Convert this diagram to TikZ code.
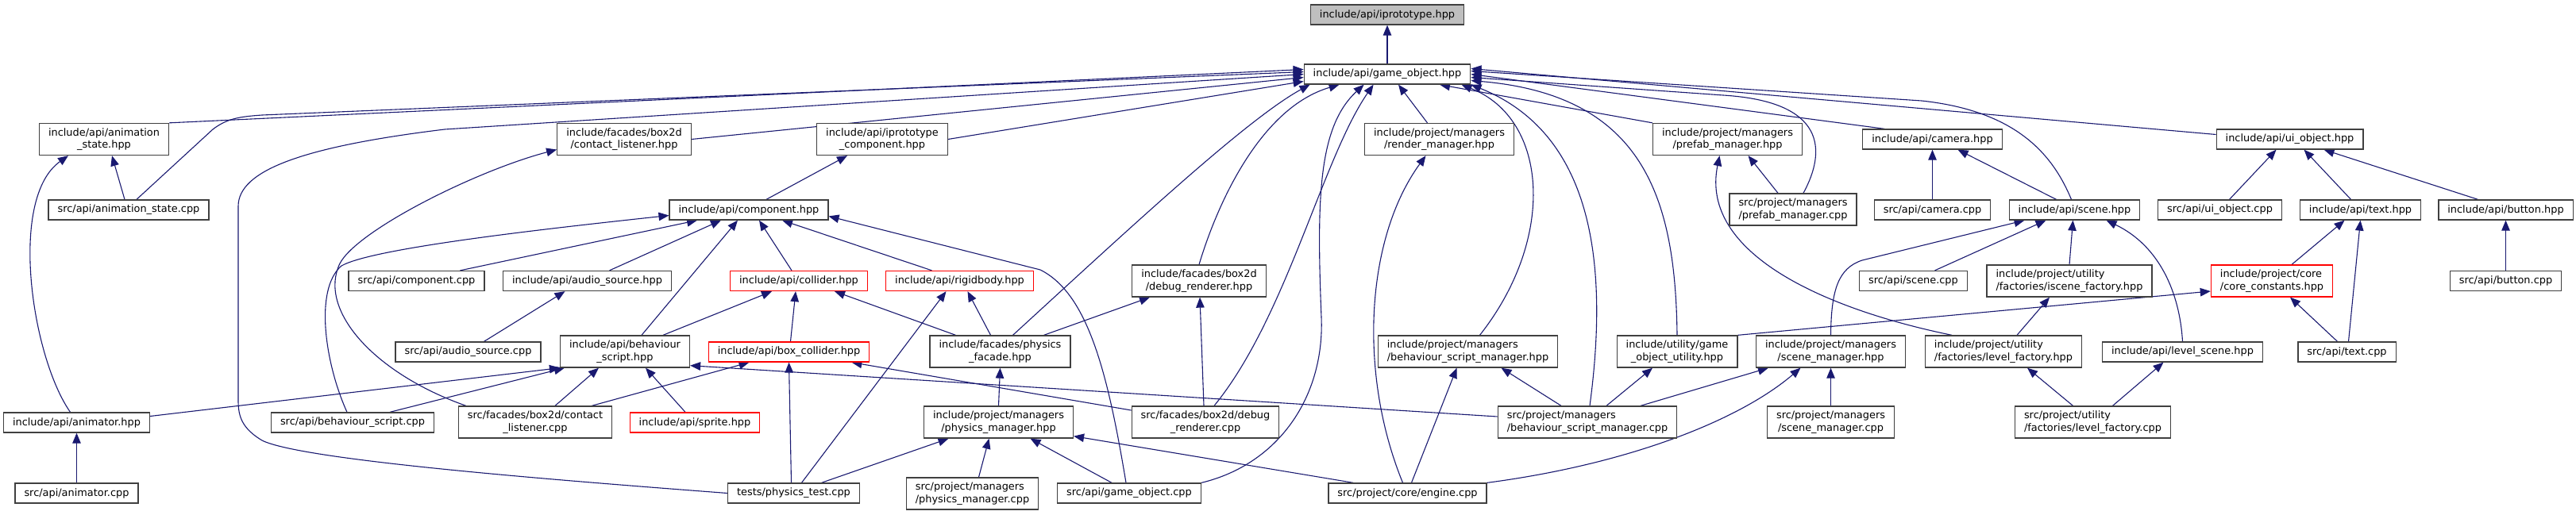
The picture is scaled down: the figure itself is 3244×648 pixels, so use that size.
\documentclass[tikz,border=0pt]{standalone}
\usepackage{fontspec}
\setmainfont{DejaVu Sans}
\usetikzlibrary{arrows.meta,backgrounds}
\definecolor{edgeblue}{HTML}{191970}
\definecolor{boxline}{HTML}{404040}
\definecolor{rootgrey}{HTML}{BFBFBF}

\begin{document}
\begin{tikzpicture}[x=1pt,y=-1pt,
  file/.style={draw=boxline,line width=1.3pt,fill=white,inner xsep=11.5pt,inner ysep=2pt,
               minimum height=25pt,font=\fontsize{12.9}{15.3}\selectfont},
  two/.style={minimum height=40pt,align=center},
  lft/.style={minimum height=40pt,align=left},
  bad/.style={draw=red},
  root/.style={fill=rootgrey},
  arr/.style={-{Triangle[length=13pt,width=10.5pt]},edgeblue,line width=1.1pt}]

\useasboundingbox (0,0) rectangle (3244,648);

\node[file,root] (iproto) at (1747,18.5) {include/api/iprototype.hpp};
\node[file] (gobj) at (1747,93.5) {include/api/game\_object.hpp};

\node[file,two] (animstateh) at (131,175.5) {include/api/animation\\\_state.hpp};
\node[file,two] (clistenerh) at (786,175.5) {include/facades/box2d\\/contact\_listener.hpp};
\node[file,two] (protocomp) at (1111,175.5) {include/api/iprototype\\\_component.hpp};
\node[file,two] (rendermgr) at (1812.5,175.5) {include/project/managers\\/render\_manager.hpp};
\node[file,two] (prefabmgrh) at (2175.5,175.5) {include/project/managers\\/prefab\_manager.hpp};
\node[file] (camerah) at (2433.5,175.5) {include/api/camera.hpp};
\node[file] (uiobjh) at (2883.5,175.5) {include/api/ui\_object.hpp};

\node[file] (animstatecpp) at (162,264.5) {src/api/animation\_state.cpp};
\node[file] (componenth) at (943,264.5) {include/api/component.hpp};
\node[file,lft] (prefabmgrcpp) at (2258,264) {src/project/managers\\/prefab\_manager.cpp};
\node[file] (cameracpp) at (2433.5,264.5) {src/api/camera.cpp};
\node[file] (sceneh) at (2612.5,264.5) {include/api/scene.hpp};
\node[file] (uiobjcpp) at (2795.5,264.5) {src/api/ui\_object.cpp};
\node[file] (texth) at (2972.5,264.5) {include/api/text.hpp};
\node[file] (buttonh) at (3155.5,264.5) {include/api/button.hpp};

\node[file] (componentcpp) at (524.5,354) {src/api/component.cpp};
\node[file] (audioh) at (739.5,354) {include/api/audio\_source.hpp};
\node[file,bad] (colliderh) at (1006,354) {include/api/collider.hpp};
\node[file,bad] (rigidbodyh) at (1208.5,354) {include/api/rigidbody.hpp};
\node[file,two] (dbgrenderh) at (1510,354) {include/facades/box2d\\/debug\_renderer.hpp};
\node[file] (scenecpp) at (2409.5,354) {src/api/scene.cpp};
\node[file,lft] (iscenefac) at (2606,354) {include/project/utility\\/factories/iscene\_factory.hpp};
\node[file,lft,bad] (coreconst) at (2861,354) {include/project/core\\/core\_constants.hpp};
\node[file] (buttoncpp) at (3155.5,354) {src/api/button.cpp};

\node[file] (audiocpp) at (589.5,443.5) {src/api/audio\_source.cpp};
\node[file,two] (bscripth) at (787,443) {include/api/behaviour\\\_script.hpp};
\node[file,bad] (boxcollh) at (993.5,443.5) {include/api/box\_collider.hpp};
\node[file,two] (physfacade) at (1259.5,443) {include/facades/physics\\\_facade.hpp};
\node[file,lft] (bsmgrh) at (1848.5,443) {include/project/managers\\/behaviour\_script\_manager.hpp};
\node[file,two] (goutil) at (2112,443) {include/utility/game\\\_object\_utility.hpp};
\node[file,two] (scenemgrh) at (2305.5,443) {include/project/managers\\/scene\_manager.hpp};
\node[file,lft] (levelfach) at (2523,443) {include/project/utility\\/factories/level\_factory.hpp};
\node[file] (levelsceneh) at (2748.5,443.5) {include/api/level\_scene.hpp};
\node[file] (textcpp) at (2955.5,443.5) {src/api/text.cpp};

\node[file] (animatorh) at (96.5,532.5) {include/api/animator.hpp};
\node[file] (bscriptcpp) at (444,532.5) {src/api/behaviour\_script.cpp};
\node[file,two] (clistenercpp) at (674,532) {src/facades/box2d/contact\\\_listener.cpp};
\node[file,bad] (spriteh) at (875,532.5) {include/api/sprite.hpp};
\node[file,two] (physmgrh) at (1257.5,532) {include/project/managers\\/physics\_manager.hpp};
\node[file,two] (dbgrendercpp) at (1518,532) {src/facades/box2d/debug\\\_renderer.cpp};
\node[file,lft] (bsmgrcpp) at (1999,532) {src/project/managers\\/behaviour\_script\_manager.cpp};
\node[file,two] (scenemgrcpp) at (2305.5,532) {src/project/managers\\/scene\_manager.cpp};
\node[file,lft] (levelfaccpp) at (2635.5,532) {src/project/utility\\/factories/level\_factory.cpp};

\node[file] (animatorcpp) at (96.5,621.5) {src/api/animator.cpp};
\node[file] (phystest) at (999.5,621.5) {tests/physics\_test.cpp};
\node[file,lft] (physmgrcpp) at (1224.5,622) {src/project/managers\\/physics\_manager.cpp};
\node[file] (gobjcpp) at (1422,621.5) {src/api/game\_object.cpp};
\node[file] (enginecpp) at (1772.5,621.5) {src/project/core/engine.cpp};

\begin{scope}[on background layer]
\draw[arr] (gobj) -- (iproto);

\draw[arr] (animstateh.north east) -- ([yshift=6pt]gobj.west);
\draw[arr] ([xshift=10pt]animstatecpp.north) -- (268,163) .. controls (285,150) and (300,147) .. (330,145) -- ([yshift=3pt]gobj.west);
\draw[arr] (phystest.west) .. controls (700,605) and (380,580) .. (330,555) .. controls (305,540) and (300,525) .. (300,505) -- (300,260) .. controls (300,215) and (380,185) .. (560,163) -- (gobj.west);
\draw[arr] (clistenerh.east) -- ([yshift=-4pt]gobj.west);
\draw[arr] (protocomp.east) -- ([yshift=-9pt]gobj.west);
\draw[arr] ([xshift=16pt]physfacade.north) .. controls (1420,290) and (1570,150) .. ([xshift=8pt]gobj.south west);
\draw[arr] (dbgrenderh.north) .. controls (1535,250) and (1590,135) .. ([xshift=45pt]gobj.south west);
\draw[arr] (gobjcpp.north east) .. controls (1610,585) and (1668,500) .. (1664,400) .. controls (1658,250) and (1660,160) .. ([xshift=76pt]gobj.south west);
\draw[arr] ([xshift=11pt]dbgrendercpp.north) .. controls (1620,400) and (1665,200) .. ([xshift=88pt]gobj.south west);
\draw[arr] ([xshift=-15pt]rendermgr.north) -- ([xshift=14pt]gobj.south);
\draw[arr] (prefabmgrh.north west) -- ([xshift=66pt]gobj.south);
\draw[arr] ([xshift=15pt]bsmgrh.north) .. controls (1960,300) and (1950,150) .. ([xshift=-12pt]gobj.south east);
\draw[arr] ([xshift=3pt]bsmgrcpp.north) .. controls (2025,340) and (2010,170) .. (gobj.south east);
\draw[arr] (goutil.north) .. controls (2110,250) and (2070,120) .. ([yshift=-8pt]gobj.east);
\draw[arr] ([xshift=13pt]prefabmgrcpp.north) .. controls (2300,190) and (2300,128) .. (2170,120) -- ([yshift=-4pt]gobj.east);
\draw[arr] ([xshift=28pt]camerah.north west) -- (gobj.east);
\draw[arr] ([xshift=-4pt]sceneh.north) .. controls (2585,195) and (2540,140) .. (2420,127) -- ([yshift=4pt]gobj.east);
\draw[arr] ([yshift=6pt]uiobjh.west) -- ([yshift=7pt]gobj.east);

\draw[arr] ([xshift=-5pt]animstatecpp.north) -- ([xshift=10pt]animstateh.south);
\draw[arr] ([xshift=-8pt]animatorh.north) .. controls (40,450) and (10,250) .. ([xshift=-45pt]animstateh.south);
\draw[arr] (animatorcpp) -- (animatorh);
\draw[arr] ([yshift=8pt]animatorh.east) -- (bscripth.south west);
\draw[arr] ([xshift=47pt]bscriptcpp.north) -- ([xshift=6pt]bscripth.south west);
\draw[arr] ([xshift=-7pt]bscriptcpp.north) .. controls (410,460) and (395,365) .. (430,335) .. controls (470,312) and (700,287) .. ([yshift=-7pt]componenth.west);
\draw[arr] ([xshift=10pt]clistenercpp.north west) .. controls (470,470) and (400,390) .. (428,332) .. controls (450,290) and (600,215) .. ([yshift=-13pt]clistenerh.west);
\draw[arr] ([xshift=25pt]clistenercpp.north) -- ([xshift=-33pt]bscripth.south);
\draw[arr] ([xshift=-26pt]clistenercpp.north east) -- ([xshift=-50pt]boxcollh.south);
\draw[arr] ([xshift=-12pt]spriteh.north) -- ([xshift=26pt]bscripth.south);
\draw[arr] ([xshift=20pt]audiocpp.north) -- ([xshift=-28pt]audioh.south);

\draw[arr] ([xshift=55pt]componentcpp.north) -- ([xshift=-65pt]componenth.south);
\draw[arr] ([xshift=28pt]audioh.north) -- ([xshift=-35pt]componenth.south);
\draw[arr] ([xshift=21pt]bscripth.north) -- ([xshift=-14pt]componenth.south);
\draw[arr] ([xshift=-9pt]colliderh.north) -- ([xshift=13pt]componenth.south);
\draw[arr] ([xshift=-35pt]rigidbodyh.north) -- ([xshift=42pt]componenth.south);
\draw[arr] ([xshift=22pt]componenth.north) -- ([xshift=-44pt]protocomp.south);
\draw[arr] ([xshift=48pt]bscripth.north) -- ([xshift=-34pt]colliderh.south);
\draw[arr] ([xshift=2pt]boxcollh.north) -- ([xshift=-4pt]colliderh.south);

\draw[arr] ([xshift=-56pt]physfacade.north) -- ([xshift=45pt]colliderh.south);
\draw[arr] ([xshift=-12pt]physfacade.north) -- ([xshift=10pt]rigidbodyh.south);
\draw[arr] ([xshift=55pt]physfacade.north) -- ([xshift=-62pt]dbgrenderh.south);
\draw[arr] (physmgrh.north) -- (physfacade.south);
\draw[arr] ([xshift=-3pt]phystest.north) -- (boxcollh.south);
\draw[arr] ([xshift=10pt]phystest.north) -- ([xshift=-17pt]rigidbodyh.south);
\draw[arr] ([xshift=35pt]phystest.north) -- ([xshift=-63pt]physmgrh.south);
\draw[arr] ([xshift=8pt]physmgrcpp.north) -- ([xshift=-12pt]physmgrh.south);
\draw[arr] ([xshift=-22pt]gobjcpp.north) -- ([xshift=40pt]physmgrh.south);
\draw[arr] ([xshift=-4pt]gobjcpp.north) .. controls (1395,470) and (1370,370) .. (1310,340) -- ([yshift=-8pt]componenth.east);
\draw[arr] ([xshift=32pt]enginecpp.north west) -- ([yshift=3pt]physmgrh.south east);
\draw[arr] ([xshift=-2pt]dbgrendercpp.north) -- ([xshift=1pt]dbgrenderh.south);
\draw[arr] ([yshift=15pt]dbgrendercpp.west) -- ([xshift=-23pt]boxcollh.south east);
\draw[arr] ([yshift=7pt]bsmgrcpp.west) -- ([yshift=3pt]bscripth.south east);

\draw[arr] ([xshift=-6pt]enginecpp.north) .. controls (1710,470) and (1720,300) .. ([xshift=-17pt]rendermgr.south);
\draw[arr] ([xshift=5pt]enginecpp.north) -- ([xshift=-14pt]bsmgrh.south);
\draw[arr] (enginecpp.north east) .. controls (2050,585) and (2190,530) .. ([xshift=-38pt]scenemgrh.south);
\draw[arr] ([xshift=-33pt]bsmgrcpp.north) -- ([xshift=42pt]bsmgrh.south);
\draw[arr] ([xshift=24pt]bsmgrcpp.north) -- ([xshift=-31pt]goutil.south);
\draw[arr] ([xshift=67pt]bsmgrcpp.north) -- ([xshift=16pt]scenemgrh.south west);
\draw[arr] (scenemgrcpp.north) -- (scenemgrh.south);
\draw[arr] (goutil.north east) -- ([yshift=-13pt]coreconst.west);

\draw[arr] ([xshift=-19pt]prefabmgrcpp.north) -- ([xshift=26pt]prefabmgrh.south);
\draw[arr] ([xshift=-65pt]levelfach.north) .. controls (2300,390) and (2140,320) .. ([xshift=-10pt]prefabmgrh.south);
\draw[arr] (cameracpp.north) -- (camerah.south);
\draw[arr] ([xshift=-23pt]sceneh.north) -- ([xshift=32pt]camerah.south);
\draw[arr] ([xshift=27pt]scenecpp.north) -- ([xshift=-36pt]sceneh.south);
\draw[arr] (iscenefac.north) -- ([xshift=-2pt]sceneh.south);
\draw[arr] (levelsceneh.north) .. controls (2745,370) and (2720,310) .. ([xshift=40pt]sceneh.south);
\draw[arr] (scenemgrh.north) .. controls (2306,365) and (2315,338) .. (2345,328) -- ([xshift=-63pt]sceneh.south);
\draw[arr] ([xshift=17pt]levelfach.north) -- ([xshift=-25pt]iscenefac.south);
\draw[arr] ([xshift=-25pt]levelfaccpp.north) -- ([xshift=30pt]levelfach.south);
\draw[arr] ([xshift=25pt]levelfaccpp.north) -- ([xshift=-24pt]levelsceneh.south);

\draw[arr] ([xshift=12pt]uiobjcpp.north) -- ([xshift=-17pt]uiobjh.south);
\draw[arr] ([xshift=-12pt]texth.north) -- ([xshift=18pt]uiobjh.south);
\draw[arr] ([xshift=-35pt]buttonh.north) -- ([xshift=43pt]uiobjh.south);
\draw[arr] (buttoncpp.north) -- (buttonh.south);
\draw[arr] ([xshift=25pt]coreconst.north) -- ([xshift=-20pt]texth.south);
\draw[arr] ([xshift=-12pt]textcpp.north) -- ([xshift=23pt]coreconst.south);
\draw[arr] ([xshift=2pt]textcpp.north) -- (texth.south);
\end{scope}
\end{tikzpicture}
\end{document}
